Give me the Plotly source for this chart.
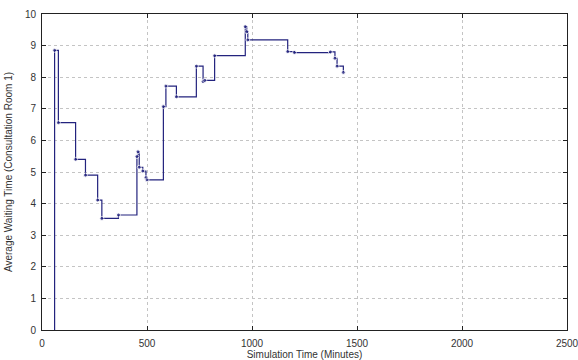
import plotly.graph_objects as go

# Simulation time (minutes) and average waiting time
time_min = [60, 60, 78, 160, 207, 265, 285, 364, 452, 457, 463, 480, 495, 500,
            578, 590, 640, 735, 767, 775, 822, 968, 975, 980, 1170, 1202,
            1373, 1395, 1405, 1435]
avg_wait = [0.0, 8.85, 6.56, 5.40, 4.90, 4.11, 3.53, 3.64, 5.49, 5.64, 5.15, 5.03, 4.82, 4.75,
            7.07, 7.72, 7.38, 8.35, 7.86, 7.90, 8.68, 9.60, 9.44, 9.18, 8.81, 8.78,
            8.80, 8.60, 8.35, 8.15]

x_ticks = [0, 500, 1000, 1500, 2000, 2500]
y_ticks = list(range(0, 11))

line_color = "#23237e"
marker_sizes = [0] + [4] * (len(time_min) - 1)

fig = go.Figure()
fig.add_trace(go.Scatter(
    x=time_min, y=avg_wait, mode="lines+markers",
    line=dict(color=line_color, width=1.2, shape="hv"),
    marker=dict(color=line_color, size=marker_sizes),
    showlegend=False,
    cliponaxis=False,
))

font = dict(family="Liberation Sans, Arial, sans-serif", size=10, color="#333333")
axis_common = dict(
    showline=True, linecolor="#222222", linewidth=1, mirror="ticks",
    ticks="inside", ticklen=4, tickcolor="#222222",
    showgrid=True, gridcolor="#c4c4c4", griddash="dot", gridwidth=1,
    zeroline=False, automargin=False, ticklabeloverflow="allow",
    tickfont=font,
)

fig.update_xaxes(range=[0, 2500], tickvals=x_ticks, ticklabelstandoff=4,
                 title=dict(text="Simulation Time (Minutes)", standoff=4, font=font),
                 **axis_common)
fig.update_yaxes(range=[0, 10], tickvals=y_ticks, ticklabelstandoff=3,
                 title=dict(text="Average Waiting Time (Consultation Room 1)", standoff=10, font=font),
                 **axis_common)

fig.update_layout(
    width=578, height=360,
    margin=dict(l=42, r=11, t=14, b=30),
    paper_bgcolor="white", plot_bgcolor="white",
)

fig.write_html("out.html")
